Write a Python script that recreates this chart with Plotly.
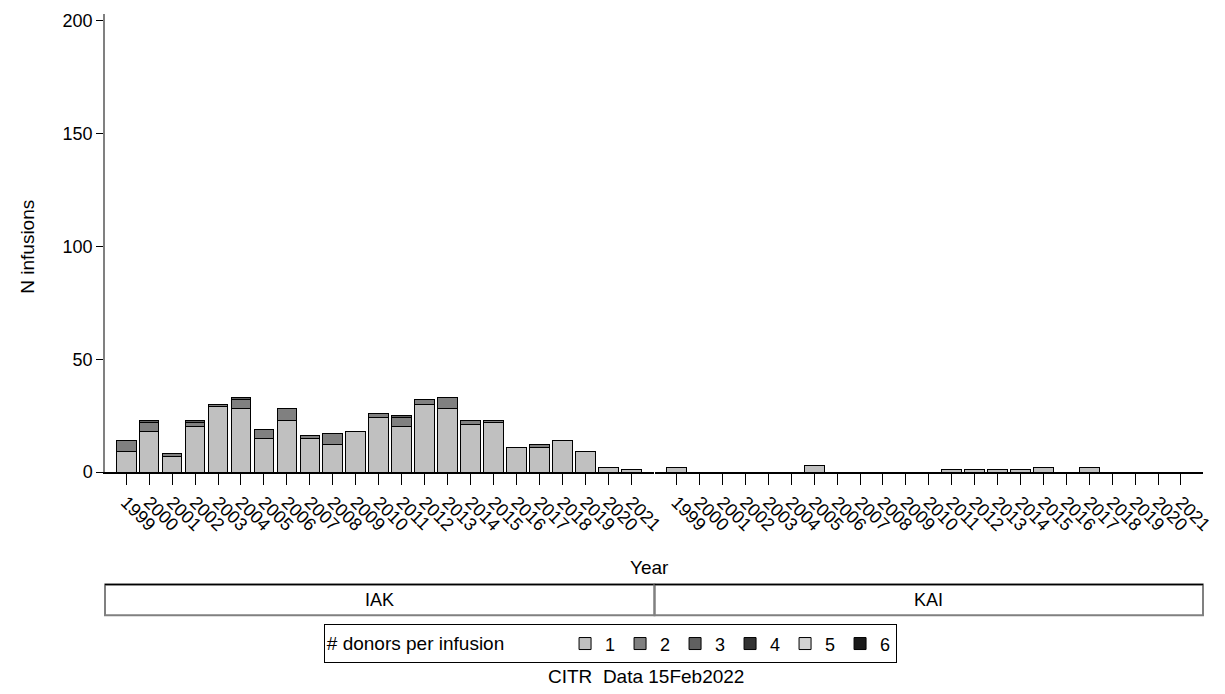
import plotly.graph_objects as go

years = [str(y) for y in range(1999, 2022)]

# IAK: infusions by number of donors per infusion
iak_d1 = [9, 18, 7, 20, 29, 28, 15, 23, 15, 12, 18, 24, 20, 30, 28, 21, 22, 11, 11, 14, 9, 2, 1]
iak_d2 = [5, 4, 1, 2, 1, 4, 4, 5, 1, 5, 0, 2, 4, 2, 5, 2, 1, 0, 1, 0, 0, 0, 0]
iak_d3 = [0, 1, 0, 1, 0, 1, 0, 0, 0, 0, 0, 0, 1, 0, 0, 0, 0, 0, 0, 0, 0, 0, 0]
iak_d4 = [0] * 23
iak_d5 = [0] * 23
iak_d6 = [0] * 23

# KAI
kai_d1 = [2, 0, 0, 0, 0, 0, 3, 0, 0, 0, 0, 0, 1, 1, 1, 1, 2, 0, 2, 0, 0, 0, 0]
kai_d2 = [0] * 23
kai_d3 = [0] * 23
kai_d4 = [0] * 23
kai_d5 = [0] * 23
kai_d6 = [0] * 23

donor_labels = ["1", "2", "3", "4", "5", "6"]
donor_colors = ["#c0c0c0", "#808080", "#606060", "#333333", "#d3d3d3", "#1a1a1a"]

panels = ["IAK", "KAI"]
y_ticks = [0, 50, 100, 150, 200]

W, H = 1225, 694
L, R, T, B = 105, 11, 12, 222
PW = W - L - R
PH = H - T - B
FONT = "Liberation Sans, Arial, sans-serif"


def px_x(x):
    return (x - L) / PW


def px_y(y):
    return (H - B - y) / PH


def nz(vals):
    return [v if v else None for v in vals]


fig = go.Figure()
iak_series = [iak_d1, iak_d2, iak_d3, iak_d4, iak_d5, iak_d6]
kai_series = [kai_d1, kai_d2, kai_d3, kai_d4, kai_d5, kai_d6]
for i, lab in enumerate(donor_labels):
    fig.add_trace(go.Bar(x=years, y=nz(iak_series[i]), name=lab, legendgroup=lab,
                         marker=dict(color=donor_colors[i], line=dict(color="#000000", width=1)),
                         width=0.86, xaxis="x", yaxis="y", showlegend=True))
    fig.add_trace(go.Bar(x=years, y=nz(kai_series[i]), name=lab, legendgroup=lab,
                         marker=dict(color=donor_colors[i], line=dict(color="#000000", width=1)),
                         width=0.86, xaxis="x2", yaxis="y", showlegend=False))

xcommon = dict(type="category", range=[-0.92, 22.96], showline=True, linecolor="#000000",
               linewidth=1.5, ticks="outside", ticklen=11, tickcolor="#000000", tickwidth=1,
               tickangle=45, tickfont=dict(family=FONT, size=18, color="#000000"),
               showgrid=False, zeroline=False, fixedrange=True)

NB = "\u00a0"

fig.update_layout(
    width=W, height=H,
    margin=dict(l=L, r=R, t=T, b=B),
    paper_bgcolor="white", plot_bgcolor="white",
    barmode="stack", bargap=0.14,
    font=dict(family=FONT, size=17, color="#000000"),
    xaxis=dict(domain=[0, px_x(659)], anchor="y", **xcommon),
    xaxis2=dict(domain=[px_x(661), 1], anchor="y", **xcommon),
    yaxis=dict(range=[0, 203], tickvals=y_ticks, showline=True, linecolor="#808080",
               linewidth=1.5, ticks="outside", ticklen=7, tickcolor="#000000",
               tickfont=dict(family=FONT, size=18), showgrid=False, zeroline=False),
    legend=dict(orientation="h", x=px_x(326), y=px_y(625), xanchor="left", yanchor="top",
                bordercolor="#000000", borderwidth=1, bgcolor="white",
                title=dict(text="# donors per infusion" + NB * 10, side="left",
                           font=dict(family=FONT, size=19)),
                font=dict(family=FONT, size=18), entrywidth=10, traceorder="normal",
                itemclick=False, valign="middle"),
    showlegend=True,
)

# axis titles
fig.add_annotation(text="N infusions", xref="paper", yref="paper", x=px_x(27), y=px_y(246),
                   xanchor="center", yanchor="middle", textangle=-90, showarrow=False,
                   font=dict(size=19))
fig.add_annotation(text="Year", xref="paper", yref="paper", x=px_x(655), y=px_y(568),
                   xanchor="center", yanchor="middle", showarrow=False, font=dict(size=19))

# panel strips
strip_top, strip_bot = px_y(585), px_y(616)
edges = [(105, 660), (660, 1214)]
for (x0, x1), name in zip(edges, panels):
    fig.add_shape(type="rect", xref="paper", yref="paper", x0=px_x(x0), x1=px_x(x1),
                  y0=strip_bot, y1=strip_top, line=dict(color="#808080", width=2),
                  fillcolor="rgba(0,0,0,0)")
    fig.add_shape(type="line", xref="paper", yref="paper", x0=px_x(x0), x1=px_x(x1),
                  y0=strip_top, y1=strip_top, line=dict(color="#000000", width=1.5))
    fig.add_annotation(text=name, xref="paper", yref="paper", x=px_x((x0 + x1) / 2),
                       y=(strip_top + strip_bot) / 2, xanchor="center", yanchor="middle",
                       showarrow=False, font=dict(size=18))

fig.add_annotation(text="CITR" + NB + " Data 15Feb2022", xref="paper", yref="paper",
                   x=px_x(651), y=px_y(677), xanchor="center", yanchor="middle",
                   showarrow=False, font=dict(size=19))

fig.write_html("out.html")
